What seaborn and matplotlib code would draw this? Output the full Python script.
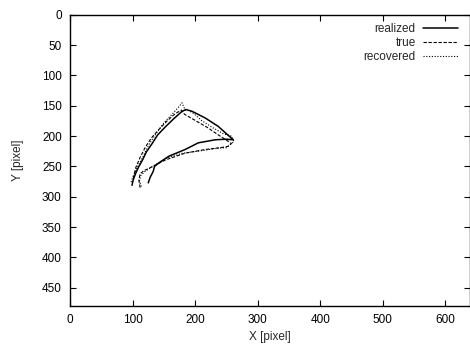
import numpy as np
import pandas as pd
import seaborn as sns
import matplotlib
matplotlib.use("Agg")
import matplotlib.pyplot as plt

# trajectory points (image pixel coordinates)
realized_x = [125, 128, 133, 135, 142, 158, 184, 205, 232, 250, 261, 250, 237, 216, 195, 185, 178, 165, 153, 140, 132, 122, 116, 110, 105, 101, 99]
realized_y = [277, 268, 258, 250, 244, 233, 222, 211, 206, 205, 206, 196, 184, 170, 159, 156, 160, 172, 184, 198, 211, 226, 239, 250, 261, 272, 281]

true_x = [112, 110, 112, 118, 132, 153, 184, 216, 240, 252, 258, 240, 220, 200, 183, 178, 168, 155, 142, 130, 121, 112, 105, 101]
true_y = [285, 272, 262, 257, 250, 239, 228, 222, 219, 217, 212, 200, 186, 174, 164, 157, 163, 175, 189, 203, 217, 235, 252, 270]

recovered_x = [114, 111, 113, 120, 135, 155, 180, 210, 235, 250, 262, 258, 245, 228, 210, 198, 190, 184, 181, 179, 172, 162, 150, 138, 126, 116, 107, 100, 97]
recovered_y = [283, 274, 265, 258, 248, 236, 228, 224, 220, 219, 209, 200, 196, 186, 174, 163, 158, 157, 150, 145, 154, 165, 178, 195, 214, 235, 252, 268, 278]

sns.set_style("ticks")
plt.rcParams['font.family'] = ['Liberation Sans', 'DejaVu Sans']
plt.rcParams['font.size'] = 8.5

fig = plt.figure(figsize=(4.7, 3.45), dpi=100)
ax = fig.add_axes([0.149, 0.113, 0.852, 0.844])

sns.lineplot(x=realized_x, y=realized_y, sort=False, estimator=None, ax=ax,
             color="black", linewidth=1.1, label="realized")
sns.lineplot(x=true_x, y=true_y, sort=False, estimator=None, ax=ax,
             color="black", linewidth=0.8, linestyle=(0, (3, 1.5)), label="true")
sns.lineplot(x=recovered_x, y=recovered_y, sort=False, estimator=None, ax=ax,
             color="black", linewidth=0.8, linestyle=(0, (1, 1.5)), label="recovered")

ax.set_xlim(0, 640)
ax.set_ylim(480, 0)
ax.set_xticks(np.arange(0, 601, 100))
ax.set_yticks(np.arange(0, 451, 50))
ax.tick_params(direction="in", length=4, width=0.8, top=True, right=True,
               labelsize=8.5, colors="black", pad=6)
for s in ax.spines.values():
    s.set_linewidth(1.0)
    s.set_color("black")

ax.set_xlabel("X [pixel]", fontsize=8.5, labelpad=3)
ax.set_ylabel("Y [pixel]", fontsize=8.5, labelpad=13)

leg = ax.legend(loc="upper right", frameon=False, markerfirst=False,
                fontsize=8.5, handlelength=3.0, handletextpad=0.6,
                labelspacing=0.15, borderaxespad=0.3,
                bbox_to_anchor=(0.99, 1.0))

fig.savefig("out.png", dpi=100)
